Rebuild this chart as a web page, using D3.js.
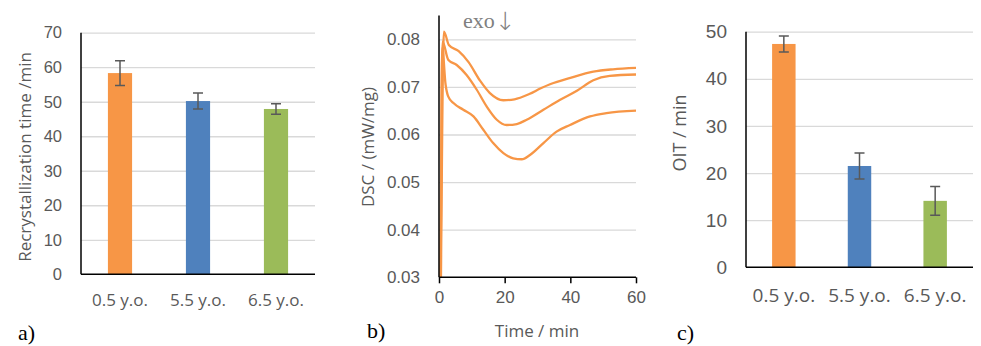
<!doctype html>
<html>
  <head>
    <script src="https://cdnjs.cloudflare.com/ajax/libs/d3/7.8.5/d3.min.js"></script>
    <style>
      body { margin: 0; background: #fff; }
      svg { display: block; font-family: "Open Sans", sans-serif; }
      .tick text { fill: #595959; }
      .grid line { stroke: #d9d9d9; stroke-width: 1.3; }
      .grid path { display: none; }
      .axisline { stroke: #000; stroke-width: 1.5; }
      .errbar { stroke: #595959; stroke-width: 1.5; fill: none; }
      .dsc { fill: none; stroke: #f79646; stroke-width: 2.3; }
      .panel { font-family: "Liberation Serif", serif; font-size: 22px; fill: #000; }
      .ylab, .xlab { fill: #595959; }
    </style>
  </head>
  <body>
    <svg width="981" height="346"></svg>
    <script>
      // bar data (panels a and c)
      var ages = ["0.5 y.o.", "5.5 y.o.", "6.5 y.o."];
      var barColors = ["#f79646", "#4f81bd", "#9bbb59"];
      var recrystMean = [58.3, 50.2, 47.9];
      var recrystErr = [3.6, 2.3, 1.5];
      var recrystTicks = [0, 10, 20, 30, 40, 50, 60, 70];
      var oitMean = [47.4, 21.5, 14.1];
      var oitErr = [1.7, 2.75, 3.05];
      var oitTicks = [0, 10, 20, 30, 40, 50];

      // DSC curves (panel b), [time min, mW/mg]
      var dscTop = [[0.6, 0.030], [1.5, 0.0816], [3.0, 0.0788], [6.0, 0.0775], [9.0, 0.0752], [12.5, 0.0713],
        [15.5, 0.0687], [19.6, 0.0672], [23.0, 0.0674], [27.5, 0.0685], [31, 0.0697], [34, 0.0706],
        [40, 0.0719], [47, 0.0732], [53, 0.0737], [60, 0.0740]];
      var dscMid = [[0.5, 0.030], [1.1, 0.0795], [2.8, 0.0757], [5.4, 0.0746], [8.4, 0.0725], [11.5, 0.0694],
        [14.5, 0.0659], [17.6, 0.0631], [20.6, 0.0620], [23.7, 0.0622], [26.7, 0.0631], [31.8, 0.0652],
        [36.9, 0.0673], [42, 0.0692], [47, 0.0714], [52, 0.0723], [60, 0.0726]];
      var dscLow = [[0.5, 0.030], [1.0, 0.0782], [2.0, 0.0705], [2.8, 0.0680], [4.4, 0.0666], [7.4, 0.0652],
        [10.5, 0.0638], [13.5, 0.0610], [16.5, 0.0582], [19.6, 0.0561], [22.6, 0.0550], [25.2, 0.0548],
        [27.7, 0.0557], [31.8, 0.0582], [35.8, 0.0606], [39.9, 0.0620], [46, 0.0638], [51, 0.0645], [60, 0.0650]];
      var dscSeries = [dscTop, dscMid, dscLow];
      var dscYTicks = [0.03, 0.04, 0.05, 0.06, 0.07, 0.08];
      var dscXTicks = [0, 20, 40, 60];

      var svg = d3.select("svg");

      function barPanel(opt) {
        var g = svg.append("g");
        var x = d3.scaleBand().domain(ages).range([opt.left, opt.right]).paddingInner(0.69).paddingOuter(0.345);
        var y = d3.scaleLinear().domain([0, opt.max]).range([opt.bottom, opt.top]);

        g.append("g")
            .attr("class", "grid")
            .attr("transform", "translate(" + opt.left + ",0)")
            .call(d3.axisLeft(y).tickValues(opt.ticks).tickSize(-(opt.right - opt.left)).tickFormat("").tickSizeOuter(0))
            .selectAll(".tick").filter(d => d === 0).remove();

        g.append("g")
            .attr("transform", "translate(" + opt.left + ",0)")
            .call(d3.axisLeft(y).tickValues(opt.ticks).tickSize(0).tickPadding(opt.tickPad))
            .call(a => a.select(".domain").remove())
            .selectAll("text").style("font-size", opt.tickFont + "px");

        g.selectAll("rect").data(opt.mean)
          .enter()
          .append("rect")
            .attr("x", (d, i) => x(ages[i]))
            .attr("width", x.bandwidth())
            .attr("y", d => y(d))
            .attr("height", d => y(0) - y(d))
            .style("fill", (d, i) => barColors[i]);

        opt.mean.forEach(function (m, i) {
          var cx = x(ages[i]) + x.bandwidth() / 2;
          var lo = y(m - opt.err[i]), hi = y(m + opt.err[i]);
          g.append("path")
              .attr("class", "errbar")
              .attr("d", "M" + cx + "," + lo + "V" + hi +
                "M" + (cx - 5) + "," + hi + "H" + (cx + 5) +
                "M" + (cx - 5) + "," + lo + "H" + (cx + 5));
        });

        g.append("line").attr("class", "axisline")
            .attr("x1", opt.left).attr("x2", opt.left).attr("y1", opt.top).attr("y2", opt.bottom);
        g.append("line").attr("class", "axisline")
            .attr("x1", opt.left).attr("x2", opt.right).attr("y1", opt.bottom).attr("y2", opt.bottom);

        g.selectAll("text.xlab").data(ages)
          .enter()
          .append("text")
            .attr("class", "xlab")
            .attr("x", d => x(d) + x.bandwidth() / 2)
            .attr("y", opt.xlabY)
            .attr("text-anchor", "middle")
            .style("font-size", opt.xFont + "px")
            .text(d => d);

        g.append("text")
            .attr("class", "ylab")
            .attr("transform", "translate(" + opt.ylabX + "," + opt.ylabY + ") rotate(-90)")
            .attr("text-anchor", "middle")
            .attr("dy", "0.35em")
            .style("font-size", opt.yFont + "px")
            .text(opt.label);
      }

      barPanel({
        left: 81, right: 315, top: 32.7, bottom: 274.3, max: 70, ticks: recrystTicks,
        mean: recrystMean, err: recrystErr, tickPad: 19, tickFont: 16.5, xFont: 17, yFont: 17,
        xlabY: 306, ylabX: 25, ylabY: 157, label: "Recrystallization time /min"
      });

      barPanel({
        left: 746, right: 973, top: 31.7, bottom: 267.3, max: 50, ticks: oitTicks,
        mean: oitMean, err: oitErr, tickPad: 19, tickFont: 19, xFont: 19, yFont: 18,
        xlabY: 302, ylabX: 680, ylabY: 133, label: "OIT / min"
      });

      // panel b: DSC curves
      var gb = svg.append("g");
      var bx = d3.scaleLinear().domain([0, 60]).range([439, 636]);
      var by = d3.scaleLinear().domain([0.03, 0.085]).range([277.3, 15.5]);

      gb.append("g")
          .attr("class", "grid")
          .attr("transform", "translate(439,0)")
          .call(d3.axisLeft(by).tickValues(dscYTicks.slice(1)).tickSize(-197).tickFormat(""));

      gb.append("g")
          .attr("transform", "translate(439,0)")
          .call(d3.axisLeft(by).tickValues(dscYTicks).tickSize(0).tickPadding(19).tickFormat(d3.format(".2f")))
          .call(a => a.select(".domain").remove())
          .selectAll("text").style("font-size", "17px");

      gb.append("g")
          .attr("transform", "translate(0,277.3)")
          .call(d3.axisBottom(bx).tickValues(dscXTicks).tickSize(6).tickPadding(8))
          .call(a => a.select(".domain").remove())
          .call(a => a.selectAll("line").style("stroke", "#000").style("stroke-width", 1.5))
          .selectAll("text").style("font-size", "17px");

      var line = d3.line()
          .x(d => bx(d[0]))
          .y(d => by(d[1]))
          .curve(d3.curveMonotoneX);

      gb.selectAll("path.dsc").data(dscSeries)
        .enter()
        .append("path")
          .attr("class", "dsc")
          .attr("d", line);

      gb.append("line").attr("class", "axisline")
          .attr("x1", 439).attr("x2", 439).attr("y1", 15.5).attr("y2", 277.3);
      gb.append("line").attr("class", "axisline")
          .attr("x1", 439).attr("x2", 636).attr("y1", 277.3).attr("y2", 277.3);

      gb.append("text")
          .attr("class", "ylab")
          .attr("transform", "translate(368,147) rotate(-90)")
          .attr("text-anchor", "middle")
          .attr("dy", "0.35em")
          .style("font-size", "17px")
          .text("DSC / (mW/mg)");

      gb.append("text")
          .attr("class", "xlab")
          .attr("x", 537).attr("y", 337)
          .attr("text-anchor", "middle")
          .style("font-size", "17px")
          .text("Time / min");

      var exo = gb.append("text")
          .attr("x", 463).attr("y", 28)
          .style("fill", "#808080");
      exo.append("tspan")
          .style("font-family", "'Liberation Serif', serif")
          .style("font-size", "22px")
          .text("exo");
      exo.append("tspan")
          .attr("dy", 2)
          .style("font-family", "'DejaVu Sans', sans-serif")
          .style("font-size", "25px")
          .style("font-weight", 300)
          .text("\u2193");

      // panel letters
      svg.append("text").attr("class", "panel").attr("x", 18).attr("y", 340).text("a)");
      svg.append("text").attr("class", "panel").attr("x", 367).attr("y", 338).text("b)");
      svg.append("text").attr("class", "panel").attr("x", 677).attr("y", 340).text("c)");
    </script>
  </body>
</html>
